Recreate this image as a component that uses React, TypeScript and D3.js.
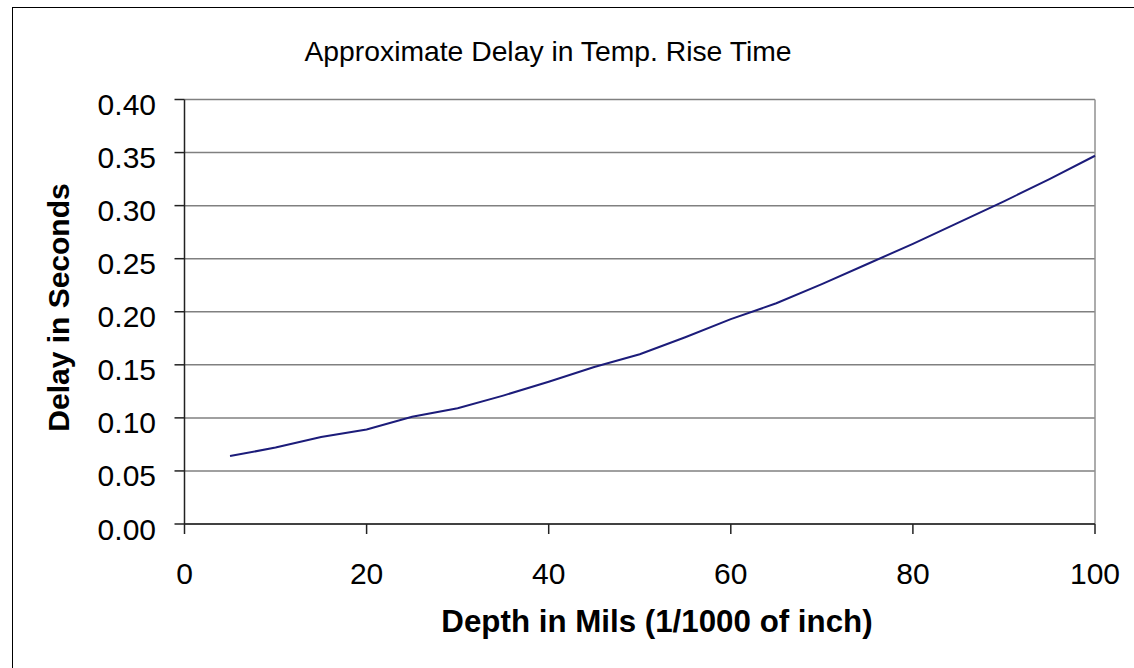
import React from "react";
import * as d3 from "d3";

const depths = [5, 10, 15, 20, 25, 30, 35, 40, 45, 50, 55, 60, 65, 70, 75, 80, 85, 90, 95, 100];
const delays = [0.064, 0.072, 0.082, 0.089, 0.101, 0.109, 0.121, 0.134, 0.148, 0.160, 0.176, 0.193, 0.208, 0.226, 0.245, 0.264, 0.284, 0.304, 0.325, 0.347];
const xTicks = [0, 20, 40, 60, 80, 100];
const yTicks = [0, 0.05, 0.1, 0.15, 0.2, 0.25, 0.3, 0.35, 0.4];
const title = "Approximate Delay in Temp. Rise Time";
const xTitle = "Depth in Mils (1/1000 of inch)";
const yTitle = "Delay in Seconds";

const W = 1134, H = 668;
const L = 184.5, R = 1095, T = 99.5, B = 524;
const font = "'Liberation Sans', Arial, sans-serif";

export default function App() {
  const x = d3.scaleLinear().domain([0, 100]).range([L, R]);
  const y = d3.scaleLinear().domain([0, 0.4]).range([B, T]);
  const line = d3.line<number>().x((_, i) => x(depths[i])).y((d) => y(d));
  return (
    <svg width={W} height={H} style={{ position: "absolute", left: 0, top: 0, background: "#fff" }}>
      <rect x={12.5} y={7.5} width={1200} height={800} fill="#fff" stroke="#000" strokeWidth={1} />
      {yTicks.map((t) => (
        <line key={"g" + t} x1={L} x2={R} y1={y(t)} y2={y(t)} stroke="#808080" strokeWidth={1.5} />
      ))}
      <line x1={R} x2={R} y1={T} y2={B} stroke="#909090" strokeWidth={1.5} />
      <line x1={L} x2={L} y1={T} y2={B} stroke="#222" strokeWidth={1.5} />
      <line x1={L} x2={R} y1={B} y2={B} stroke="#222" strokeWidth={1.5} />
      {yTicks.map((t) => (
        <g key={"y" + t}>
          <line x1={L - 10} x2={L} y1={y(t)} y2={y(t)} stroke="#222" strokeWidth={1.5} />
          <text x={156} y={y(t) + 15.5} textAnchor="end" fontFamily={font} fontSize={30} fill="#000">
            {t.toFixed(2)}
          </text>
        </g>
      ))}
      {xTicks.map((t) => (
        <g key={"x" + t}>
          <line x1={x(t)} x2={x(t)} y1={B} y2={B + 10} stroke="#222" strokeWidth={1.5} />
          <text x={x(t)} y={584} textAnchor="middle" fontFamily={font} fontSize={30} fill="#000">
            {t}
          </text>
        </g>
      ))}
      <path d={line(delays) || ""} fill="none" stroke="#1c1c7a" strokeWidth={2} />
      <text x={548} y={61} textAnchor="middle" fontFamily={font} fontSize={28.3} fill="#000">
        {title}
      </text>
      <text x={657} y={632} textAnchor="middle" fontFamily={font} fontSize={31.3} fontWeight="bold" fill="#000">
        {xTitle}
      </text>
      <text transform={`translate(69,307.5) rotate(-90)`} textAnchor="middle" fontFamily={font} fontSize={30} fontWeight="bold" fill="#000">
        {yTitle}
      </text>
    </svg>
  );
}
